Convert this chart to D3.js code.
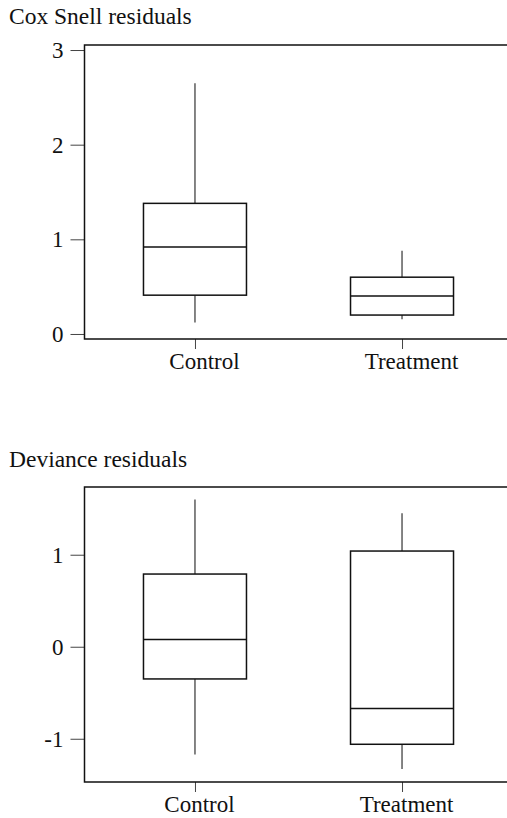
<!DOCTYPE html>
<html>
<head>
<meta charset="utf-8">
<script src="https://cdn.jsdelivr.net/npm/d3@7"></script>
<style>
  body { margin: 0; background: #fff; }
  text { font-family: "Liberation Serif", "Times New Roman", serif; fill: #111; }
</style>
</head>
<body>
<script>
'use strict';

// groups on the x axis
let categories = ['Control', 'Treatment'];

// Cox Snell residuals: whisker low, Q1, median, Q3, whisker high
let coxLow = [0.12, 0.155];
let coxQ1 = [0.41, 0.20];
let coxMed = [0.92, 0.40];
let coxQ3 = [1.38, 0.60];
let coxHigh = [2.65, 0.88];
let coxTicks = [0, 1, 2, 3];

// Deviance residuals
let devLow = [-1.17, -1.33];
let devQ1 = [-0.35, -1.06];
let devMed = [0.08, -0.67];
let devQ3 = [0.79, 1.04];
let devHigh = [1.60, 1.45];
let devTicks = [-1, 0, 1];

let svgWidth = 507, svgHeight = 818;

let svg = d3.select('body').append('svg')
  .attr('width', svgWidth)
  .attr('height', svgHeight);

function boxPanel(opts) {
  let g = svg.append('g');
  let left = 84.5, right = 520;

  let yScale = d3.scaleLinear()
    .domain(opts.domain)
    .range([opts.bottom, opts.top]);

  let xScale = d3.scalePoint()
    .domain(categories)
    .range([84, 513])
    .padding(0.536);

  let boxW = 103;

  let rows = categories.map((c, i) => ({
    cat: c, low: opts.low[i], q1: opts.q1[i], med: opts.med[i], q3: opts.q3[i], high: opts.high[i]
  }));

  // title
  g.append('text')
    .attr('x', 9)
    .attr('y', opts.titleY)
    .attr('font-size', 23.5)
    .text(opts.title);

  // y axis (ticks sit outside the frame), plain hyphen for negatives
  let yAxis = g.append('g')
    .attr('transform', `translate(${left},0)`)
    .call(d3.axisLeft(yScale).tickValues(opts.ticks).tickSize(14).tickPadding(7).tickFormat(d => String(d)));
  yAxis.select('.domain').remove();
  yAxis.selectAll('line').attr('stroke', '#444');
  yAxis.selectAll('text')
    .attr('font-size', 23)
    .attr('font-family', '"Liberation Serif", serif')
    .attr('fill', '#111')
    .attr('dy', '0.33em');

  // x axis
  let xAxis = g.append('g')
    .attr('transform', `translate(0,${opts.bottom})`)
    .call(d3.axisBottom(xScale).tickSize(10).tickPadding(4));
  xAxis.select('.domain').remove();
  xAxis.selectAll('line').attr('stroke', '#444');
  xAxis.selectAll('text')
    .attr('font-size', 23)
    .attr('font-family', '"Liberation Serif", serif')
    .attr('fill', '#111')
    .attr('dx', opts.labelShift);

  // frame
  g.append('path')
    .attr('d', `M${right},${opts.top}H${left}V${opts.bottom}H${right}`)
    .attr('fill', 'none')
    .attr('stroke', '#111')
    .attr('stroke-width', 1.5);

  // whiskers
  g.selectAll('.whiskerHi').data(rows).enter().append('line')
    .attr('x1', d => xScale(d.cat)).attr('x2', d => xScale(d.cat))
    .attr('y1', d => yScale(d.q3)).attr('y2', d => yScale(d.high))
    .attr('stroke', '#333').attr('stroke-width', 1.2);
  g.selectAll('.whiskerLo').data(rows).enter().append('line')
    .attr('x1', d => xScale(d.cat)).attr('x2', d => xScale(d.cat))
    .attr('y1', d => yScale(d.q1)).attr('y2', d => yScale(d.low))
    .attr('stroke', '#333').attr('stroke-width', 1.2);

  // boxes
  g.selectAll('.box').data(rows).enter().append('rect')
    .attr('x', d => xScale(d.cat) - boxW / 2)
    .attr('y', d => yScale(d.q3))
    .attr('width', boxW)
    .attr('height', d => yScale(d.q1) - yScale(d.q3))
    .attr('fill', 'white')
    .attr('stroke', '#111')
    .attr('stroke-width', 1.5);

  // medians
  g.selectAll('.median').data(rows).enter().append('line')
    .attr('x1', d => xScale(d.cat) - boxW / 2).attr('x2', d => xScale(d.cat) + boxW / 2)
    .attr('y1', d => yScale(d.med)).attr('y2', d => yScale(d.med))
    .attr('stroke', '#111').attr('stroke-width', 1.5);
}

boxPanel({
  title: 'Cox Snell residuals', titleY: 24,
  domain: [-0.053, 3.053], top: 45, bottom: 339,
  ticks: coxTicks, labelShift: 9,
  low: coxLow, q1: coxQ1, med: coxMed, q3: coxQ3, high: coxHigh
});

boxPanel({
  title: 'Deviance residuals', titleY: 467,
  domain: [-1.47, 1.736], top: 487, bottom: 782,
  ticks: devTicks, labelShift: 4,
  low: devLow, q1: devQ1, med: devMed, q3: devQ3, high: devHigh
});
</script>
</body>
</html>
